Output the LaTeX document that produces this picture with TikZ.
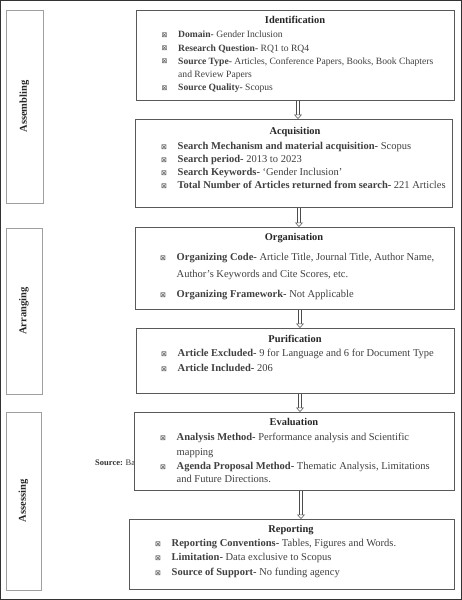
\documentclass[tikz,border=0pt]{standalone}
\usepackage{fontspec}
\setmainfont{Liberation Serif}
\newfontfamily\symfont{DejaVu Sans}
\usetikzlibrary{arrows.meta}
\newcommand\mybul{\makebox[16.5pt][l]{\raisebox{0.2pt}{\symfont\fontsize{7}{8}\selectfont\color{black!75}⊠}}}
\tikzset{
 frame/.style={draw=black!80, line width=1.4pt},
 sidebox/.style={draw=gray!75, line width=1pt, fill=white, inner sep=0pt, rotate=90, font=\fontsize{10.5}{12}\selectfont\bfseries, text=black!85},
 mainbox/.style={draw=gray!70!black, line width=0.9pt, fill=white, inner sep=0pt, anchor=north west},
 ttl/.style={anchor=base, inner sep=0pt, font=\fontsize{10.4}{12}\selectfont\bfseries, text=black!85},
 txt/.style={anchor=base west, inner sep=0pt, font=\fontsize{9.6}{11}\selectfont, text=black!75},
 txtl/.style={anchor=base west, inner sep=0pt, font=\fontsize{10.5}{12}\selectfont, text=black!75},
 src/.style={anchor=base west, inner sep=0pt, font=\fontsize{8.5}{10}\selectfont, text=black!80},
 flow/.style={draw=gray!60!black, line width=0.5pt, double=white, double distance=2.2pt, -{Triangle[open, fill=white, length=4.5pt, width=8pt]}},
}
\begin{document}
\begin{tikzpicture}[x=1pt,y=-1pt]
\useasboundingbox (0,0) rectangle (462,600);
\fill[white] (0,0) rectangle (462,600);
\draw[frame] (0.7,0.7) rectangle (461.3,599.3);

% side labels
\node[sidebox, minimum width=193pt, minimum height=37pt] (asm) at (24.5,106.5) {Assembling};
\node[sidebox, minimum width=166pt, minimum height=36pt] (arr) at (24,311) {Arranging};
\node[sidebox, minimum width=178pt, minimum height=35pt] (ass) at (23.5,501) {Assessing};

% source note (partly hidden)
\node[src] (srcnote) at (95,465) {\textbf{Source:} Ba};

% main boxes
\node[mainbox, minimum width=318pt, minimum height=90pt] (ident) at (136,10) {};
\node[mainbox, minimum width=317pt, minimum height=88pt] (acq) at (135,119) {};
\node[mainbox, minimum width=319pt, minimum height=82pt] (org) at (135,227) {};
\node[mainbox, minimum width=318pt, minimum height=65pt] (pur) at (136,328) {};
\node[mainbox, minimum width=320pt, minimum height=78pt] (eva) at (134,412) {};
\node[mainbox, minimum width=325pt, minimum height=70pt] (rep) at (129,519) {};

% arrows
\draw[flow] ([xshift=162pt]ident.south west) -- ([xshift=163pt]acq.north west);
\draw[flow] ([xshift=164pt]acq.south west) -- ([xshift=164pt]org.north west);
\draw[flow] ([xshift=165pt]org.south west) -- ([xshift=164pt]pur.north west);
\draw[flow] ([xshift=164pt]pur.south west) -- ([xshift=166pt]eva.north west);
\draw[flow] ([xshift=167pt]eva.south west) -- ([xshift=172pt]rep.north west);

% Identification
\node[ttl] (identT) at (295,23.5) {Identification};
\node[txt] (i1) at (161.5,37.5) {\mybul\textbf{Domain-} Gender Inclusion};
\node[txt] (i2) at (161.5,51) {\mybul\textbf{Research Question-} RQ1 to RQ4};
\node[txt] (i3) at (161.5,64) {\mybul\textbf{Source Type-} Articles, Conference Papers, Books, Book Chapters};
\node[txt] (i3b) at (178,77) {and Review Papers};
\node[txt] (i4) at (161.5,90.5) {\mybul\textbf{Source Quality-} Scopus};

% Acquisition
\node[ttl] (acqT) at (295,134.5) {Acquisition};
\node[txtl] (a1) at (161,149.5) {\mybul\textbf{Search Mechanism and material acquisition-} Scopus};
\node[txtl] (a2) at (161,162.5) {\mybul\textbf{Search period-} 2013 to 2023};
\node[txtl] (a3) at (161,175.5) {\mybul\textbf{Search Keywords-} `Gender Inclusion'};
\node[txtl] (a4) at (161,188.5) {\mybul\textbf{Total Number of Articles returned from search-} 221 Articles};

% Organisation
\node[ttl] (orgT) at (294,240.5) {Organisation};
\node[txtl] (o1) at (160,260.5) {\mybul\textbf{Organizing Code-} Article Title, Journal Title, Author Name,};
\node[txtl] (o1b) at (176.5,277.5) {Author's Keywords and Cite Scores, etc.};
\node[txtl] (o2) at (160,297.5) {\mybul\textbf{Organizing Framework-} Not Applicable};

% Purification
\node[ttl] (purT) at (295,342.5) {Purification};
\node[txtl] (p1) at (161,356.5) {\mybul\textbf{Article Excluded-} 9 for Language and 6 for Document Type};
\node[txtl] (p2) at (161,371.5) {\mybul\textbf{Article Included-} 206};

% Evaluation
\node[ttl] (evaT) at (294,425.5) {Evaluation};
\node[txtl] (e1) at (160,440.5) {\mybul\textbf{Analysis Method-} Performance analysis and Scientific};
\node[txtl] (e1b) at (176.5,455.5) {mapping};
\node[txtl] (e2) at (160,469.5) {\mybul\textbf{Agenda Proposal Method-} Thematic Analysis, Limitations};
\node[txtl] (e2b) at (176.5,482.5) {and Future Directions.};

% Reporting
\node[ttl] (repT) at (291,532.5) {Reporting};
\node[txtl] (r1) at (155,546.5) {\mybul\textbf{Reporting Conventions-} Tables, Figures and Words.};
\node[txtl] (r2) at (155,560.5) {\mybul\textbf{Limitation-} Data exclusive to Scopus};
\node[txtl] (r3) at (155,575.5) {\mybul\textbf{Source of Support-} No funding agency};
\end{tikzpicture}
\end{document}
